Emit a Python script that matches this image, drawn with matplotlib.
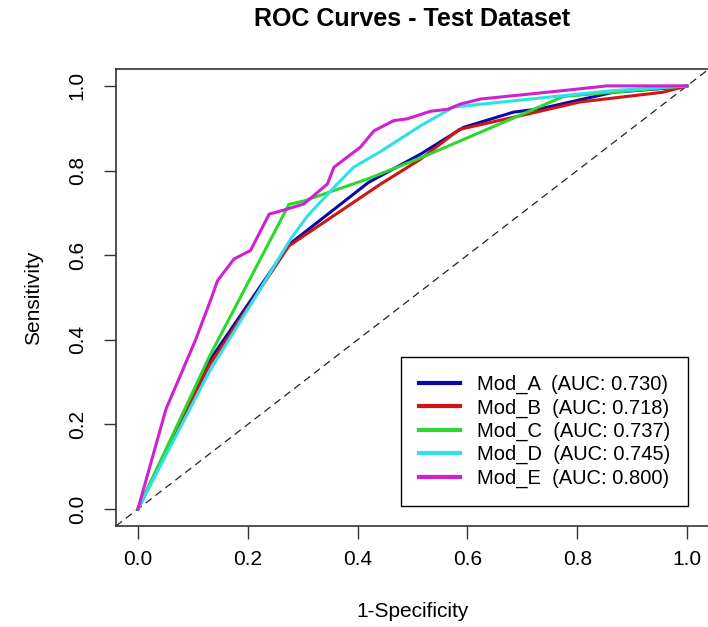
import matplotlib
matplotlib.use('Agg')
import matplotlib.pyplot as plt

plt.rcParams['font.family'] = ['Liberation Sans', 'DejaVu Sans']

# ROC points (1-specificity, sensitivity)
model_names = ['Mod_A', 'Mod_B', 'Mod_C', 'Mod_D', 'Mod_E']
auc_values = [0.730, 0.718, 0.737, 0.745, 0.800]

fpr_a = [0, 0.13, 0.275, 0.42, 0.515, 0.593, 0.684, 0.733, 0.866, 0.987, 1.0]
tpr_a = [0, 0.35, 0.625, 0.772, 0.839, 0.902, 0.938, 0.946, 0.985, 0.997, 1.0]

fpr_b = [0, 0.13, 0.275, 0.442, 0.515, 0.585, 0.715, 0.805, 0.956, 1.0]
tpr_b = [0, 0.34, 0.622, 0.768, 0.827, 0.897, 0.935, 0.962, 0.985, 1.0]

fpr_c = [0, 0.13, 0.275, 0.302, 0.418, 0.515, 0.775, 1.0]
tpr_c = [0, 0.36, 0.72, 0.728, 0.78, 0.83, 0.975, 1.0]

fpr_d = [0, 0.13, 0.218, 0.278, 0.309, 0.357, 0.393, 0.442, 0.515, 0.575, 0.775, 0.866, 1.0]
tpr_d = [0, 0.325, 0.51, 0.638, 0.693, 0.76, 0.808, 0.845, 0.906, 0.95, 0.977, 0.989, 1.0]

fpr_e = [0, 0.051, 0.105, 0.133, 0.145, 0.175, 0.205, 0.239, 0.272, 0.302, 0.345, 0.357,
         0.405, 0.430, 0.466, 0.490, 0.533, 0.565, 0.587, 0.624, 0.715, 0.775, 0.854, 1.0]
tpr_e = [0, 0.236, 0.40, 0.496, 0.54, 0.591, 0.611, 0.697, 0.709, 0.721, 0.768, 0.808,
         0.855, 0.894, 0.918, 0.922, 0.940, 0.945, 0.957, 0.969, 0.981, 0.989, 1.0, 1.0]

curves = [(fpr_a, tpr_a), (fpr_b, tpr_b), (fpr_c, tpr_c), (fpr_d, tpr_d), (fpr_e, tpr_e)]
colors = ['#0a0aaa', '#d01515', '#2ed62e', '#2ee0ea', '#d021d0']
ticks = [0.0, 0.2, 0.4, 0.6, 0.8, 1.0]

fig = plt.figure(figsize=(7.08, 6.27), dpi=100)
ax = fig.add_axes([0.1638, 0.1611, 0.8376, 0.7289])

# diagonal reference line (abline)
ax.axline((0, 0), slope=1, color='#222222', lw=0.9, ls=(0, (6, 4)), zorder=1)

for name, auc, (fx, ty), c in zip(model_names, auc_values, curves, colors):
    ax.plot(fx, ty, color=c, lw=2.2, label=f'{name}  (AUC: {auc:.3f})', zorder=2)

ax.set_xlim(-0.04, 1.04)
ax.set_ylim(-0.04, 1.04)
ax.set_xticks(ticks)
ax.set_yticks(ticks)
ax.set_xticklabels([f'{t:.1f}' for t in ticks])
ax.set_yticklabels([f'{t:.1f}' for t in ticks], rotation=90, va='center')
ax.tick_params(axis='both', length=9, width=1, color='#333333', labelsize=15)
ax.tick_params(axis='x', pad=8)
ax.tick_params(axis='y', pad=12)
for sp in ax.spines.values():
    sp.set_color('#333333')
    sp.set_linewidth(1.2)

ax.set_title('ROC Curves - Test Dataset', fontsize=18, fontweight='bold', pad=31)
ax.set_xlabel('1-Specificity', fontsize=15, labelpad=24)
ax.set_ylabel('Sensitivity', fontsize=15, labelpad=18)

leg = ax.legend(loc='lower right', bbox_to_anchor=(1.002, 0.007), bbox_transform=ax.transData,
                fontsize=14.5, frameon=True, fancybox=False, framealpha=1, edgecolor='black',
                handlelength=2.0, handletextpad=0.85, labelspacing=0.21, borderpad=0.9,
                borderaxespad=0)
leg.get_frame().set_linewidth(1.0)
for line in leg.get_lines():
    line.set_linewidth(3)

plt.savefig('out.png', dpi=100)
plt.close()
